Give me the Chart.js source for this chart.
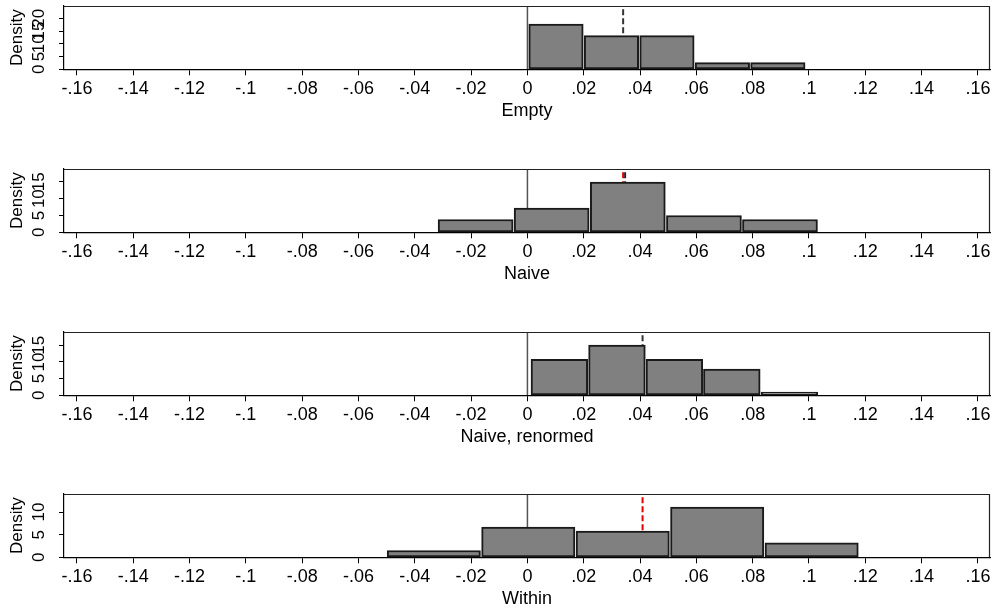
<!DOCTYPE html>
<html>
<head>
<meta charset="utf-8">
<script src="https://cdn.jsdelivr.net/npm/chart.js@4"></script>
<style>
body { margin: 0; background: #fff; }
.panel { position: absolute; left: 0; width: 997px; height: 125px; }
</style>
</head>
<body>
<div class="panel" style="top:0px"><canvas id="chart1"></canvas></div>
<div class="panel" style="top:163px"><canvas id="chart2"></canvas></div>
<div class="panel" style="top:326px"><canvas id="chart3"></canvas></div>
<div class="panel" style="top:488px"><canvas id="chart4"></canvas></div>
<script>
// x axis ticks shared by all four panels
const x_ticks = [-0.16, -0.14, -0.12, -0.10, -0.08, -0.06, -0.04, -0.02, 0,
                 0.02, 0.04, 0.06, 0.08, 0.10, 0.12, 0.14, 0.16];

// Empty
const edges_empty = [0.0003, 0.0200, 0.0397, 0.0594, 0.0791, 0.0988];
const dens_empty = [17.7, 13.2, 13.2, 2.6, 2.6];
const ticks_empty = [0, 5, 10, 15, 20];
const ymax_empty = 24.8;

// Naive
const edges_naive = [-0.0319, -0.0049, 0.0221, 0.0492, 0.0762, 0.1032];
const dens_naive = [3.8, 7.2, 14.9, 5.0, 3.8];
const ticks_naive = [0, 5, 10, 15];
const ymax_naive = 18.8;

// Naive, renormed
const edges_renorm = [0.0011, 0.0216, 0.0420, 0.0624, 0.0828, 0.1033];
const dens_renorm = [10.8, 15.1, 10.8, 7.9, 1.0];
const ticks_renorm = [0, 5, 10, 15];
const ymax_renorm = 19.0;

// Within
const edges_within = [-0.0500, -0.0165, 0.0171, 0.0506, 0.0842, 0.1177];
const dens_within = [1.5, 6.7, 5.8, 11.1, 3.2];
const ticks_within = [0, 5, 10];
const ymax_within = 14.0;

// dashed reference lines: [value, colour]
const lines_empty = [[0.0340, '#333']];
const lines_naive = [[0.0340, '#e00000'], [0.0347, '#222']];
const lines_renorm = [[0.0409, '#333']];
const lines_within = [[0.0409, '#e00000']];

const FONT = "'Liberation Sans', Arial, Helvetica, sans-serif";

let stataLabel = function(v) {
    let s = (Math.round(v * 100) / 100).toString();
    return s.replace('0.', '.');
};

const frame = {
    id: 'frame',
    afterDraw(chart) {
        const a = chart.chartArea;
        const ctx = chart.ctx;
        ctx.save();
        ctx.strokeStyle = '#222';
        ctx.lineWidth = 1.2;
        ctx.beginPath();
        ctx.moveTo(a.left, a.top + 0.5);
        ctx.lineTo(a.right - 0.5, a.top + 0.5);
        ctx.lineTo(a.right - 0.5, a.bottom);
        ctx.stroke();
        ctx.restore();
    }
};

let makeHist = function(id, title, edges, dens, yticks, ymax, refs) {
    const bars = [];
    for (let i = 0; i < dens.length; i++) {
        bars.push({x: (edges[i] + edges[i + 1]) / 2, y: dens[i]});
    }
    const binW = edges[1] - edges[0];

    const datasets = [{
        type: 'bar',
        data: bars,
        backgroundColor: '#808080',
        borderColor: '#1a1a1a',
        borderWidth: 2,
        borderSkipped: false,
        order: 0,
        barThickness: c => {
            const s = c.chart.scales.x;
            return s.getPixelForValue(binW) - s.getPixelForValue(0) - 1;
        }
    }, {
        type: 'line',
        data: [{x: 0, y: 0}, {x: 0, y: ymax}],
        borderColor: '#555',
        borderWidth: 1.5,
        pointRadius: 0,
        order: 1
    }];
    refs.forEach(r => {
        datasets.push({
            type: 'line',
            data: [{x: r[0], y: 0}, {x: r[0], y: ymax}],
            borderColor: r[1],
            borderWidth: 2,
            borderDash: [6, 3],
            pointRadius: 0,
            order: 1
        });
    });

    const config = {
        type: 'bar',
        data: {datasets: datasets},
        plugins: [frame],
        options: {
            responsive: true,
            maintainAspectRatio: false,
            animation: false,
            layout: {padding: {left: 0, right: 7, top: 6, bottom: 0}},
            plugins: {legend: {display: false}, tooltip: {enabled: false}},
            scales: {
                x: {
                    type: 'linear',
                    min: -0.1646,
                    max: 0.1643,
                    offset: false,
                    afterBuildTicks: s => { s.ticks = x_ticks.map(v => ({value: v})); },
                    afterFit: s => {
                        s.height = 125 - 6 - 63.3;
                        s.paddingLeft = 0;
                        s.paddingRight = 0;
                    },
                    grid: {drawOnChartArea: false, drawTicks: true, tickLength: 6, color: '#000', offset: false},
                    border: {display: true, color: '#000', width: 1.2},
                    ticks: {
                        callback: v => stataLabel(v),
                        color: '#000',
                        padding: 3,
                        maxRotation: 0,
                        autoSkip: false,
                        font: {family: FONT, size: 18}
                    },
                    title: {
                        display: true,
                        text: title,
                        color: '#000',
                        font: {family: FONT, size: 18},
                        padding: {top: 0, bottom: 3}
                    }
                },
                y: {
                    min: 0,
                    max: ymax,
                    afterBuildTicks: s => { s.ticks = yticks.map(v => ({value: v})); },
                    afterFit: s => {
                        s.width = 64;
                        s.paddingTop = 0;
                        s.paddingBottom = 0;
                    },
                    grid: {drawOnChartArea: false, drawTicks: true, tickLength: 5, color: '#000'},
                    border: {display: true, color: '#000', width: 1.2},
                    ticks: {
                        color: '#000',
                        minRotation: 90,
                        maxRotation: 90,
                        autoSkip: false,
                        crossAlign: 'center',
                        padding: 10,
                        font: {family: FONT, size: 17}
                    },
                    title: {
                        display: true,
                        text: 'Density',
                        color: '#000',
                        font: {family: FONT, size: 17},
                        padding: {top: 7, bottom: 0}
                    }
                }
            }
        }
    };

    const chart = new Chart(document.getElementById(id), config);
    return chart;
};

makeHist('chart1', 'Empty', edges_empty, dens_empty, ticks_empty, ymax_empty, lines_empty);
makeHist('chart2', 'Naive', edges_naive, dens_naive, ticks_naive, ymax_naive, lines_naive);
makeHist('chart3', 'Naive, renormed', edges_renorm, dens_renorm, ticks_renorm, ymax_renorm, lines_renorm);
makeHist('chart4', 'Within', edges_within, dens_within, ticks_within, ymax_within, lines_within);
</script>
</body>
</html>
